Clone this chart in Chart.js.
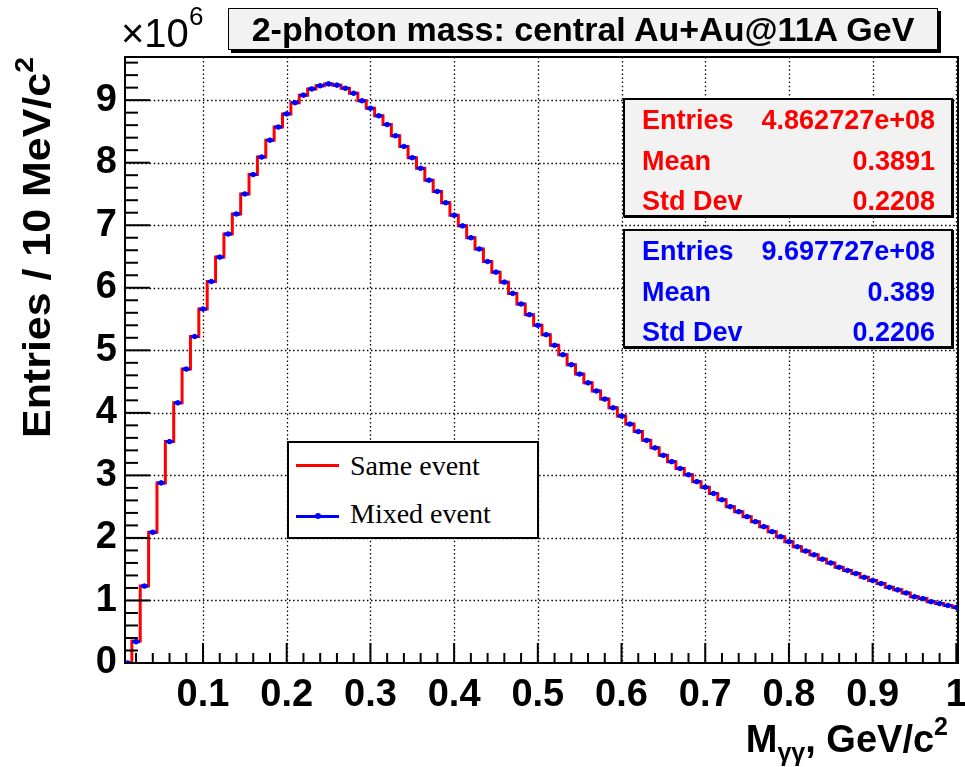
<!DOCTYPE html>
<html>
<head>
<meta charset="utf-8">
<script src="https://cdn.jsdelivr.net/npm/chart.js@4.4.1/dist/chart.umd.min.js"></script>
<style>
  body { margin: 0; background: #fff; }
  #wrap { position: relative; width: 965px; height: 767px; overflow: hidden; background: #fff; }
  #c { position: absolute; left: 0; top: 0; }
  .t { position: absolute; white-space: nowrap; color: #000; }
  .sans { font-family: "Liberation Sans", Arial, Helvetica, sans-serif; }
  .narrow { font-family: "Liberation Sans Narrow", "Liberation Sans", Arial, sans-serif; }
  .serif { font-family: "Liberation Serif", "Times New Roman", serif; }
  .stat { position: absolute; left: 623px; width: 326px; height: 115px; border: 2px solid #000;
          background: #f2f2f2; box-shadow: 1px 1px 0 #000; }
  .row { position: absolute; left: 17px; right: 16px; height: 27px; line-height: 27px;
         font: bold 27px "Liberation Sans", Arial, sans-serif; display: flex; justify-content: space-between; }
</style>
</head>
<body>
<div id="wrap">
  <canvas id="c" width="965" height="767"></canvas>

  <!-- exponent label -->
  <div class="t sans" style="left:121px; top:13px; font-size:40px; line-height:40px;">×10</div>
  <div class="t sans" style="left:189px; top:3px; font-size:26px; line-height:26px;">6</div>

  <!-- title box -->
  <div class="t sans" style="left:228px; top:8px; width:708px; height:40px; border:1.5px solid #000; background:#f2f2f2;
       box-shadow:3px 3px 0 #000; font-weight:bold; font-size:34px; line-height:40px; text-align:center;">2-photon mass: central Au+Au@11A GeV</div>

  <!-- stat box: same event -->
  <div class="stat" style="top:98px; color:#ff0000;">
    <div class="row" style="top:5px;"><span>Entries</span><span>4.862727e+08</span></div>
    <div class="row" style="top:46px;"><span>Mean</span><span>0.3891</span></div>
    <div class="row" style="top:86px;"><span>Std Dev</span><span>0.2208</span></div>
  </div>
  <!-- stat box: mixed event -->
  <div class="stat" style="top:229px; color:#0000ff;">
    <div class="row" style="top:5px;"><span>Entries</span><span>9.697727e+08</span></div>
    <div class="row" style="top:46px;"><span>Mean</span><span>0.389</span></div>
    <div class="row" style="top:86px;"><span>Std Dev</span><span>0.2206</span></div>
  </div>

  <!-- legend -->
  <div style="position:absolute; left:287px; top:441px; width:248px; height:94px; border:2px solid #000; background:#fff;">
    <div style="position:absolute; left:7px; top:20.5px; width:43px; height:3px; background:#ff0000;"></div>
    <div style="position:absolute; left:7px; top:71.5px; width:43px; height:3px; background:#0000ff;"></div>
    <div style="position:absolute; left:26px; top:70px; width:6px; height:6px; background:#0000ff; border-radius:3px;"></div>
    <div class="t serif" style="left:61px; top:9px; font-size:28px; line-height:28px;">Same event</div>
    <div class="t serif" style="left:61px; top:57px; font-size:28px; line-height:28px;">Mixed event</div>
  </div>

  <!-- y axis title -->
  <div class="t sans" style="left:18px; top:438px; font-weight:bold; font-size:38px; line-height:38px;
       transform-origin:0 0; transform:rotate(-90deg) scaleX(1.13);">Entries / 10 MeV/c<span style="font-size:25px; position:relative; top:-17px;">2</span></div>

  <!-- x axis title -->
  <div class="t narrow" style="right:17px; top:720px; font-weight:bold; font-size:38px; line-height:38px;">M<span style="font-size:25px; position:relative; top:9px;">γγ</span>, GeV/c<span style="font-size:25px; position:relative; top:-17px;">2</span></div>
</div>

<script>
// ---- data (values in units of 10^6 entries per 10 MeV/c^2) ----
const binCenters = [
  0.01,0.02,0.03,0.04,0.05,0.06,0.07,0.08,0.09,0.10,
  0.11,0.12,0.13,0.14,0.15,0.16,0.17,0.18,0.19,0.20,
  0.21,0.22,0.23,0.24,0.25,0.26,0.27,0.28,0.29,0.30,
  0.31,0.32,0.33,0.34,0.35,0.36,0.37,0.38,0.39,0.40,
  0.41,0.42,0.43,0.44,0.45,0.46,0.47,0.48,0.49,0.50,
  0.51,0.52,0.53,0.54,0.55,0.56,0.57,0.58,0.59,0.60,
  0.61,0.62,0.63,0.64,0.65,0.66,0.67,0.68,0.69,0.70,
  0.71,0.72,0.73,0.74,0.75,0.76,0.77,0.78,0.79,0.80,
  0.81,0.82,0.83,0.84,0.85,0.86,0.87,0.88,0.89,0.90,
  0.91,0.92,0.93,0.94,0.95,0.96,0.97,0.98,0.99,1.00
];
const sameEvent = [
  0.00,0.35,1.23,2.09,2.88,3.54,4.16,4.70,5.22,5.66,
  6.10,6.49,6.86,7.18,7.50,7.81,8.09,8.36,8.57,8.78,
  8.96,9.08,9.18,9.23,9.26,9.24,9.19,9.11,8.99,8.87,
  8.75,8.61,8.43,8.26,8.08,7.91,7.72,7.54,7.36,7.16,
  6.99,6.80,6.62,6.42,6.25,6.09,5.91,5.74,5.57,5.40,
  5.25,5.08,4.93,4.77,4.62,4.48,4.35,4.22,4.08,3.95,
  3.82,3.70,3.56,3.44,3.32,3.22,3.11,3.01,2.90,2.81,
  2.71,2.61,2.50,2.42,2.34,2.26,2.18,2.10,2.02,1.94,
  1.86,1.79,1.73,1.66,1.60,1.53,1.48,1.43,1.37,1.32,
  1.27,1.21,1.17,1.12,1.06,1.03,0.98,0.95,0.92,0.89
];
const mixedEvent = [
  0.00,0.34,1.23,2.09,2.88,3.54,4.16,4.70,5.22,5.66,
  6.10,6.49,6.86,7.18,7.50,7.81,8.09,8.36,8.57,8.78,
  8.96,9.08,9.18,9.23,9.26,9.24,9.19,9.11,8.99,8.87,
  8.75,8.61,8.43,8.26,8.08,7.91,7.72,7.54,7.36,7.16,
  6.99,6.80,6.62,6.42,6.25,6.09,5.91,5.74,5.57,5.40,
  5.25,5.08,4.93,4.77,4.62,4.48,4.35,4.22,4.08,3.95,
  3.82,3.70,3.56,3.44,3.32,3.22,3.11,3.01,2.90,2.81,
  2.71,2.61,2.50,2.42,2.34,2.26,2.18,2.10,2.02,1.94,
  1.86,1.79,1.73,1.66,1.60,1.53,1.48,1.43,1.37,1.32,
  1.27,1.21,1.17,1.12,1.06,1.03,0.98,0.95,0.92,0.89
];
const binWidth = 0.01;
const xTickValues = [0.1,0.2,0.3,0.4,0.5,0.6,0.7,0.8,0.9,1.0];
const xTickLabels = ['0.1','0.2','0.3','0.4','0.5','0.6','0.7','0.8','0.9','1'];
const yTickValues = [0,1,2,3,4,5,6,7,8,9];
const yTickLabels = ['0','1','2','3','4','5','6','7','8','9'];
const xMin = 0.0068, xMax = 1.002, yMin = 0, yMax = 9.69;

// histogram outline: each bin as a flat segment between its edges
function histOutline(vals) {
  const pts = [];
  vals.forEach((v, i) => {
    pts.push({ x: binCenters[i] - binWidth / 2, y: v });
    pts.push({ x: binCenters[i] + binWidth / 2, y: v });
  });
  return pts;
}
const mixedPoints = mixedEvent.map((v, i) => ({ x: binCenters[i], y: v }));

const TICKFONT = { family: '"Liberation Sans Narrow", "Liberation Sans", Arial, sans-serif', size: 38, weight: 'bold' };

const rootAxes = {
  id: 'rootAxes',
  beforeDatasetsDraw(chart) {
    const { ctx, chartArea: a, scales: { x, y } } = chart;
    ctx.save();
    ctx.strokeStyle = '#000';
    ctx.lineWidth = 1.3;
    ctx.setLineDash([1.5, 2.6]);
    xTickValues.forEach(v => {
      const px = Math.round(x.getPixelForValue(v)) + 0.5;
      ctx.beginPath(); ctx.moveTo(px, a.top); ctx.lineTo(px, a.bottom); ctx.stroke();
    });
    yTickValues.forEach(v => {
      if (v === 0) return;
      const py = Math.round(y.getPixelForValue(v)) + 0.5;
      ctx.beginPath(); ctx.moveTo(a.left, py); ctx.lineTo(a.right, py); ctx.stroke();
    });
    ctx.restore();
  },
  afterDatasetsDraw(chart) {
    const { ctx, chartArea: a, scales: { x, y } } = chart;
    ctx.save();
    ctx.strokeStyle = '#000';
    ctx.setLineDash([]);
    ctx.lineWidth = 2;
    // y ticks (inside, from left axis)
    for (let k = 0; k * 0.2 <= yMax + 1e-9; k++) {
      const v = k * 0.2;
      const py = y.getPixelForValue(v);
      const len = (k % 5 === 0) ? 25 : 13;
      ctx.beginPath(); ctx.moveTo(a.left, py); ctx.lineTo(a.left + len, py); ctx.stroke();
    }
    // x ticks (inside, from bottom axis)
    for (let k = 1; k * 0.02 <= xMax + 1e-9; k++) {
      const v = k * 0.02;
      if (v < xMin) continue;
      const px = x.getPixelForValue(v);
      const len = (k % 5 === 0) ? 20 : 10;
      ctx.beginPath(); ctx.moveTo(px, a.bottom); ctx.lineTo(px, a.bottom - len); ctx.stroke();
    }
    // frame
    ctx.lineWidth = 2;
    ctx.strokeRect(a.left, a.top, a.right - a.left, a.bottom - a.top);
    ctx.restore();
  }
};

new Chart(document.getElementById('c'), {
  type: 'line',
  data: {
    datasets: [
      {
        label: 'Same event',
        data: histOutline(sameEvent),
        borderColor: '#ff0000',
        borderWidth: 3,
        pointRadius: 0,
        fill: false,
        tension: 0,
        order: 3
      },
      {
        label: 'Mixed event',
        data: mixedPoints,
        showLine: false,
        pointStyle: 'line',
        pointRadius: 3.9,
        pointBorderWidth: 3,
        pointBorderColor: '#0000ff',
        pointBackgroundColor: '#0000ff',
        order: 2
      },
      {
        label: 'Mixed event markers',
        data: mixedPoints,
        showLine: false,
        pointStyle: 'circle',
        pointRadius: 2.3,
        pointBorderWidth: 1,
        pointBorderColor: '#0000ff',
        pointBackgroundColor: '#0000ff',
        order: 1
      }
    ]
  },
  options: {
    responsive: false,
    animation: false,
    devicePixelRatio: 1,
    layout: { padding: { left: 0, right: 6, top: 57, bottom: 0 } },
    plugins: { legend: { display: false }, tooltip: { enabled: false } },
    scales: {
      x: {
        type: 'linear',
        min: xMin, max: xMax,
        grid: { display: false, drawTicks: false },
        border: { display: false },
        afterBuildTicks: s => { s.ticks = xTickValues.map(v => ({ value: v })); },
        afterFit: s => { s.height = 104; s.paddingLeft = 0; s.paddingRight = 0; },
        ticks: {
          autoSkip: false, maxRotation: 0, minRotation: 0,
          padding: 10, color: '#000', font: TICKFONT,
          callback: (v) => { const i = xTickValues.findIndex(t => Math.abs(t - v) < 1e-6); return i >= 0 ? xTickLabels[i] : ''; }
        }
      },
      y: {
        type: 'linear',
        min: yMin, max: yMax,
        grid: { display: false, drawTicks: false },
        border: { display: false },
        afterBuildTicks: s => { s.ticks = yTickValues.map(v => ({ value: v })); },
        afterFit: s => { s.width = 125; s.paddingTop = 0; s.paddingBottom = 0; },
        ticks: {
          autoSkip: false, padding: 8, color: '#000', font: TICKFONT,
          callback: (v) => { const i = yTickValues.findIndex(t => Math.abs(t - v) < 1e-6); return i >= 0 ? yTickLabels[i] : ''; }
        }
      }
    }
  },
  plugins: [rootAxes]
});
</script>
</body>
</html>
